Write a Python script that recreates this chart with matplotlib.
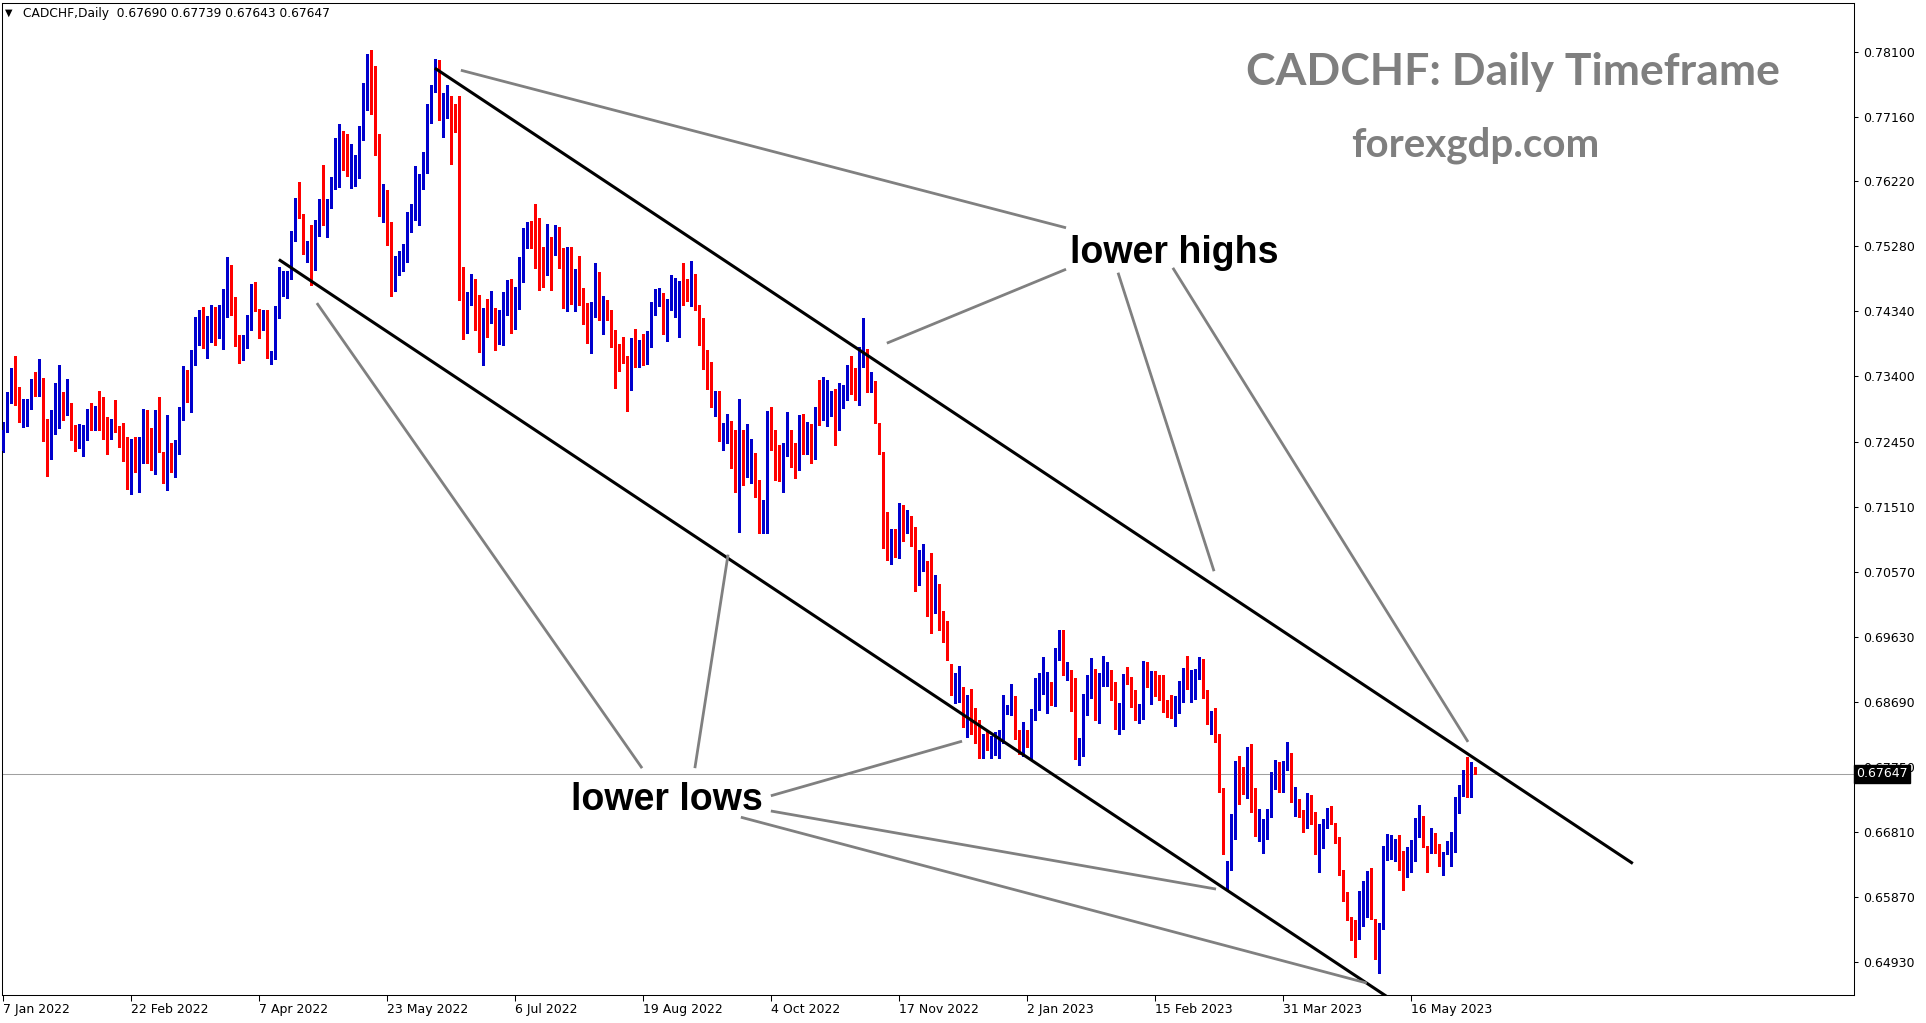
import numpy as np
import matplotlib
matplotlib.use("Agg")
import matplotlib.pyplot as plt
from matplotlib.transforms import blended_transform_factory

# CADCHF daily candles, prices in 1e-4 units (7232 -> 0.7232), bar 0 = 7 Jan 2022
opens = [7232, 7262, 7311, 7339, 7303, 7274, 7275, 7297, 7328, 7318, 7325, 7244, 7223, 7264, 7285, 7300, 7287, 7293, 7260, 7245,
         7250, 7249, 7291, 7274, 7291, 7272, 7260, 7256, 7272, 7267, 7236, 7220, 7177, 7212, 7202, 7219, 7257, 7229, 7202, 7283,
         7229, 7199, 7216, 7202, 7228, 7279, 7335, 7315, 7368, 7412, 7420, 7388, 7409, 7414, 7403, 7421, 7450, 7462, 7448, 7391,
         7383, 7392, 7415, 7439, 7437, 7412, 7419, 7363, 7376, 7428, 7474, 7469, 7484, 7539, 7582, 7575, 7519, 7529, 7498, 7555,
         7588, 7555, 7587, 7613, 7621, 7669, 7649, 7634, 7639, 7646, 7684, 7749, 7799, 7752, 7660, 7574, 7587, 7562, 7484, 7501,
         7508, 7513, 7566, 7579, 7597, 7618, 7636, 7711, 7759, 7783, 7714, 7727, 7736, 7730, 7710, 7464, 7442, 7449, 7475, 7423,
         7380, 7423, 7420, 7429, 7401, 7415, 7456, 7471, 7427, 7437, 7503, 7533, 7553, 7546, 7536, 7497, 7503, 7527, 7518, 7539,
         7510, 7449, 7498, 7468, 7481, 7459, 7430, 7388, 7426, 7478, 7422, 7439, 7429, 7397, 7377, 7372, 7370, 7325, 7390, 7368,
         7385, 7380, 7383, 7435, 7451, 7453, 7403, 7436, 7429, 7426, 7474, 7471, 7448, 7462, 7439, 7404, 7342, 7336, 7295, 7302,
         7267, 7260, 7275, 7212, 7175, 7239, 7217, 7223, 7206, 7163, 7118, 7121, 7277, 7241, 7215, 7202, 7225, 7251, 7225, 7218,
         7258, 7235, 7248, 7221, 7291, 7286, 7292, 7289, 7302, 7269, 7303, 7313, 7349, 7332, 7312, 7362, 7369, 7320, 7333, 7273,
         7231, 7106, 7081, 7102, 7080, 7142, 7127, 7123, 7109, 7053, 7066, 7053, 7029, 7008, 7040, 6970, 6958, 6924, 6889, 6880,
         6884, 6842, 6860, 6852, 6818, 6795, 6823, 6799, 6800, 6805, 6810, 6859, 6853, 6864, 6822, 6804, 6818, 6806, 6845, 6895,
         6893, 6869, 6877, 6865, 6930, 6935, 6901, 6904, 6883, 6787, 6792, 6850, 6889, 6896, 6850, 6897, 6908, 6902, 6882, 6832,
         6849, 6909, 6893, 6882, 6846, 6846, 6919, 6893, 6901, 6898, 6874, 6863, 6859, 6844, 6863, 6888, 6904, 6888, 6900, 6904,
         6922, 6883, 6838, 6844, 6821, 6744, 6623, 6633, 6674, 6775, 6767, 6746, 6795, 6727, 6676, 6681, 6670, 6702, 6757, 6776,
         6745, 6773, 6795, 6730, 6728, 6707, 6694, 6728, 6707, 6661, 6659, 6688, 6707, 6692, 6665, 6620, 6585, 6556, 6539, 6529,
         6571, 6587, 6618, 6555, 6493, 6542, 6649, 6646, 6651, 6655, 6626, 6626, 6648, 6645, 6678, 6702, 6653, 6653, 6676, 6653,
         6630, 6649, 6646, 6653, 6710, 6736, 6763, 6733, 6769]
highs = [7274, 7317, 7352, 7369, 7325, 7307, 7307, 7336, 7347, 7365, 7337, 7278, 7292, 7331, 7356, 7317, 7336, 7301, 7270, 7271,
         7270, 7293, 7301, 7297, 7319, 7310, 7281, 7278, 7306, 7268, 7272, 7252, 7249, 7252, 7252, 7293, 7291, 7265, 7291, 7310,
         7230, 7284, 7244, 7248, 7296, 7355, 7349, 7378, 7426, 7436, 7440, 7427, 7443, 7440, 7443, 7466, 7513, 7501, 7455, 7400,
         7400, 7429, 7474, 7477, 7437, 7436, 7436, 7377, 7442, 7498, 7492, 7492, 7550, 7598, 7621, 7575, 7536, 7559, 7566, 7597,
         7646, 7597, 7629, 7685, 7705, 7695, 7691, 7676, 7660, 7702, 7765, 7807, 7812, 7789, 7691, 7618, 7610, 7563, 7514, 7521,
         7532, 7578, 7589, 7645, 7633, 7665, 7734, 7762, 7799, 7798, 7750, 7762, 7746, 7734, 7746, 7498, 7462, 7488, 7481, 7458,
         7439, 7452, 7464, 7439, 7436, 7462, 7479, 7481, 7469, 7513, 7555, 7563, 7565, 7589, 7569, 7527, 7560, 7542, 7559, 7556,
         7526, 7527, 7527, 7495, 7514, 7468, 7446, 7448, 7504, 7491, 7456, 7451, 7436, 7407, 7387, 7397, 7370, 7396, 7409, 7393,
         7401, 7406, 7448, 7466, 7468, 7461, 7452, 7487, 7482, 7478, 7504, 7481, 7507, 7488, 7443, 7425, 7378, 7361, 7319, 7319,
         7273, 7286, 7275, 7262, 7307, 7262, 7271, 7249, 7229, 7190, 7161, 7290, 7296, 7262, 7241, 7244, 7289, 7262, 7244, 7284,
         7286, 7274, 7271, 7296, 7335, 7339, 7335, 7319, 7322, 7330, 7328, 7357, 7370, 7352, 7383, 7425, 7380, 7346, 7333, 7273,
         7231, 7144, 7119, 7119, 7157, 7154, 7146, 7138, 7122, 7089, 7098, 7073, 7084, 7053, 7040, 7001, 6986, 6924, 6910, 6921,
         6890, 6879, 6887, 6860, 6842, 6823, 6828, 6819, 6826, 6828, 6879, 6864, 6895, 6877, 6828, 6840, 6828, 6858, 6903, 6911,
         6934, 6912, 6898, 6947, 6973, 6973, 6927, 6915, 6904, 6817, 6880, 6908, 6932, 6917, 6911, 6935, 6927, 6915, 6898, 6867,
         6909, 6919, 6905, 6886, 6866, 6928, 6927, 6914, 6914, 6908, 6908, 6872, 6879, 6877, 6899, 6918, 6935, 6915, 6916, 6934,
         6931, 6886, 6856, 6860, 6822, 6744, 6638, 6707, 6783, 6791, 6775, 6804, 6808, 6744, 6714, 6699, 6714, 6767, 6785, 6782,
         6783, 6811, 6795, 6745, 6728, 6712, 6737, 6734, 6710, 6692, 6699, 6715, 6718, 6694, 6673, 6626, 6594, 6557, 6553, 6595,
         6610, 6624, 6629, 6555, 6549, 6660, 6678, 6676, 6671, 6676, 6653, 6659, 6669, 6701, 6720, 6704, 6660, 6686, 6679, 6663,
         6652, 6667, 6680, 6731, 6749, 6770, 6789, 6782, 6774]
lows = [7231, 7260, 7302, 7299, 7274, 7266, 7268, 7293, 7312, 7311, 7246, 7196, 7221, 7257, 7265, 7277, 7284, 7248, 7232, 7237,
        7225, 7248, 7263, 7263, 7263, 7250, 7227, 7250, 7259, 7238, 7218, 7177, 7170, 7201, 7172, 7214, 7214, 7205, 7199, 7230,
        7186, 7175, 7201, 7195, 7228, 7277, 7303, 7289, 7356, 7385, 7381, 7367, 7389, 7385, 7396, 7380, 7426, 7429, 7384, 7360,
        7363, 7381, 7407, 7435, 7396, 7407, 7366, 7358, 7365, 7425, 7457, 7454, 7481, 7536, 7569, 7517, 7506, 7472, 7494, 7543,
        7559, 7542, 7584, 7611, 7614, 7639, 7630, 7613, 7615, 7627, 7682, 7726, 7720, 7660, 7572, 7563, 7530, 7456, 7464, 7487,
        7493, 7506, 7549, 7566, 7559, 7611, 7634, 7707, 7752, 7711, 7686, 7714, 7647, 7694, 7450, 7394, 7403, 7443, 7407, 7375,
        7356, 7397, 7417, 7378, 7387, 7385, 7429, 7403, 7409, 7437, 7477, 7526, 7526, 7497, 7465, 7469, 7487, 7465, 7516, 7497,
        7439, 7435, 7445, 7435, 7443, 7416, 7388, 7374, 7426, 7422, 7401, 7422, 7383, 7323, 7348, 7359, 7290, 7320, 7354, 7354,
        7356, 7358, 7383, 7429, 7442, 7401, 7391, 7436, 7426, 7397, 7443, 7449, 7442, 7436, 7385, 7351, 7322, 7296, 7282, 7247,
        7234, 7244, 7207, 7173, 7115, 7183, 7195, 7186, 7166, 7113, 7113, 7114, 7234, 7190, 7188, 7173, 7225, 7209, 7193, 7205,
        7228, 7228, 7214, 7221, 7270, 7277, 7268, 7282, 7241, 7262, 7294, 7306, 7315, 7306, 7299, 7354, 7318, 7318, 7272, 7228,
        7091, 7074, 7069, 7079, 7077, 7101, 7114, 7095, 7030, 7038, 7059, 6993, 6969, 6998, 6973, 6956, 6930, 6879, 6867, 6869,
        6833, 6818, 6823, 6809, 6787, 6787, 6799, 6787, 6792, 6787, 6809, 6852, 6850, 6815, 6794, 6790, 6804, 6786, 6842, 6857,
        6881, 6853, 6864, 6863, 6929, 6908, 6900, 6855, 6786, 6778, 6791, 6850, 6875, 6843, 6839, 6892, 6892, 6871, 6830, 6823,
        6830, 6895, 6862, 6843, 6838, 6844, 6891, 6866, 6877, 6872, 6854, 6847, 6846, 6834, 6853, 6869, 6888, 6868, 6873, 6902,
        6875, 6837, 6822, 6811, 6739, 6649, 6596, 6626, 6671, 6721, 6736, 6730, 6709, 6675, 6667, 6650, 6670, 6702, 6743, 6738,
        6738, 6770, 6724, 6704, 6702, 6680, 6686, 6692, 6649, 6622, 6657, 6686, 6692, 6665, 6619, 6581, 6553, 6525, 6499, 6526,
        6544, 6557, 6554, 6497, 6477, 6540, 6640, 6641, 6638, 6625, 6597, 6615, 6622, 6638, 6674, 6659, 6622, 6650, 6650, 6631,
        6618, 6649, 6632, 6652, 6708, 6733, 6731, 6731, 6764]
closes = [7263, 7310, 7340, 7306, 7274, 7284, 7303, 7328, 7319, 7332, 7246, 7222, 7268, 7290, 7301, 7292, 7296, 7262, 7248, 7252,
          7252, 7291, 7274, 7294, 7272, 7257, 7259, 7275, 7268, 7239, 7221, 7179, 7213, 7205, 7225, 7286, 7231, 7205, 7284, 7231,
          7198, 7216, 7211, 7232, 7281, 7332, 7315, 7371, 7414, 7423, 7390, 7417, 7417, 7399, 7420, 7458, 7464, 7448, 7392, 7375,
          7396, 7416, 7443, 7435, 7410, 7429, 7366, 7377, 7433, 7477, 7475, 7485, 7543, 7587, 7572, 7523, 7530, 7500, 7559, 7585,
          7571, 7591, 7618, 7624, 7673, 7658, 7637, 7643, 7649, 7686, 7762, 7798, 7753, 7660, 7584, 7594, 7559, 7484, 7500, 7506,
          7524, 7563, 7582, 7604, 7618, 7644, 7714, 7759, 7786, 7715, 7724, 7731, 7728, 7707, 7458, 7442, 7451, 7475, 7422, 7391,
          7433, 7422, 7429, 7400, 7416, 7446, 7471, 7429, 7443, 7504, 7548, 7553, 7539, 7539, 7495, 7492, 7527, 7520, 7539, 7510,
          7440, 7504, 7456, 7482, 7456, 7432, 7388, 7427, 7477, 7435, 7435, 7426, 7396, 7374, 7372, 7368, 7326, 7390, 7368, 7385,
          7378, 7383, 7437, 7452, 7453, 7404, 7437, 7440, 7445, 7462, 7452, 7451, 7482, 7437, 7404, 7375, 7341, 7296, 7305, 7266,
          7268, 7274, 7209, 7177, 7244, 7217, 7228, 7224, 7166, 7126, 7135, 7286, 7245, 7217, 7202, 7238, 7254, 7222, 7217, 7271,
          7241, 7260, 7235, 7296, 7283, 7312, 7300, 7306, 7273, 7317, 7320, 7349, 7332, 7313, 7368, 7375, 7348, 7341, 7273, 7229,
          7101, 7079, 7110, 7086, 7143, 7128, 7131, 7118, 7057, 7069, 7069, 7032, 7021, 7049, 6973, 6956, 6934, 6901, 6890, 6888,
          6847, 6864, 6852, 6821, 6799, 6818, 6803, 6804, 6805, 6820, 6863, 6860, 6868, 6826, 6811, 6811, 6813, 6844, 6898, 6896,
          6903, 6882, 6872, 6938, 6935, 6915, 6905, 6882, 6791, 6802, 6877, 6895, 6898, 6853, 6908, 6919, 6911, 6881, 6833, 6860,
          6909, 6904, 6879, 6849, 6854, 6921, 6894, 6911, 6895, 6879, 6858, 6858, 6853, 6873, 6895, 6915, 6892, 6904, 6914, 6931,
          6885, 6838, 6850, 6820, 6741, 6662, 6637, 6675, 6778, 6765, 6740, 6793, 6727, 6675, 6682, 6694, 6704, 6763, 6775, 6754,
          6772, 6792, 6738, 6738, 6704, 6689, 6734, 6694, 6666, 6668, 6691, 6710, 6694, 6668, 6621, 6587, 6554, 6547, 6535, 6581,
          6605, 6615, 6555, 6497, 6545, 6657, 6653, 6655, 6655, 6628, 6625, 6650, 6650, 6678, 6704, 6660, 6646, 6676, 6656, 6640,
          6646, 6654, 6662, 6710, 6736, 6767, 6737, 6773, 6765]

date_labels = ["7 Jan 2022", "22 Feb 2022", "7 Apr 2022", "23 May 2022", "6 Jul 2022", "19 Aug 2022",
               "4 Oct 2022", "17 Nov 2022", "2 Jan 2023", "15 Feb 2023", "31 Mar 2023", "16 May 2023"]
date_bars = [0, 32, 64, 96, 128, 160, 192, 224, 256, 288, 320, 352]

price_ticks = [0.78100, 0.77160, 0.76220, 0.75280, 0.74340, 0.73400, 0.72450, 0.71510,
               0.70570, 0.69630, 0.68690, 0.67750, 0.66810, 0.65870, 0.64930]
last_price = 0.67647
header = "CADCHF,Daily  0.67690 0.67739 0.67643 0.67647"

# channel lines: (bar, price) end points
upper_channel = [(107.9, 0.7786), (407.4, 0.6635)]
lower_channel = [(68.9, 0.7509), (352.0, 0.6419)]

# pointer lines from the two labels: ((bar, price), (bar, price))
highs_pointers = [((114.4, 0.7783), (265.7, 0.7555)),
                  ((220.9, 0.7388), (265.7, 0.7495)),
                  ((278.7, 0.7490), (302.7, 0.7058)),
                  ((292.4, 0.7497), (366.2, 0.6811))]
lows_pointers = [((78.4, 0.7446), (159.7, 0.6773)),
                 ((181.2, 0.7082), (172.9, 0.6773)),
                 ((191.9, 0.6733), (239.7, 0.6812)),
                 ((191.9, 0.6711), (303.2, 0.6598)),
                 ((184.4, 0.6702), (340.9, 0.6462))]
highs_label = (292.7, 0.7504)
lows_label = (165.9, 0.6712)

o = np.array(opens) / 10000
h = np.array(highs) / 10000
l = np.array(lows) / 10000
c = np.array(closes) / 10000
x = np.arange(len(o))

W, H = 1926, 1023
fig = plt.figure(figsize=(W / 100, H / 100), dpi=100)
ax = fig.add_axes([2 / W, 1 - 995 / H, 1852 / W, 992 / H])

up = c >= o
colors = np.where(up, "#0000cd", "#ff0000")
ax.vlines(x, l, h, colors=colors, linewidth=0.75, antialiased=False, zorder=2)
body_lo = np.minimum(o, c)
body_h = np.maximum(np.abs(c - o), 0.00012)
ax.bar(x, body_h, bottom=body_lo, width=0.75, color=colors, linewidth=0, antialiased=False, zorder=3)

ax.axhline(last_price, color="#a0a0a0", linewidth=0.75, zorder=1)

for line in (upper_channel, lower_channel):
    (x0, y0), (x1, y1) = line
    ax.plot([x0, x1], [y0, y1], color="black", linewidth=2.2, zorder=5, solid_capstyle="butt")

for (x0, y0), (x1, y1) in highs_pointers + lows_pointers:
    ax.plot([x0, x1], [y0, y1], color="#808080", linewidth=2.0, zorder=6, solid_capstyle="butt")

ax.text(highs_label[0], highs_label[1], "lower highs", fontsize=27, fontweight="bold",
        family="Liberation Sans", ha="center", va="baseline", zorder=7)
ax.text(lows_label[0], lows_label[1], "lower lows", fontsize=27, fontweight="bold",
        family="Liberation Sans", ha="center", va="baseline", zorder=7)

ax.set_xlim(-0.325, 462.7)
ax.set_ylim(0.64447, 0.78803)

ax.yaxis.tick_right()
ax.set_yticks(price_ticks)
ax.set_yticklabels([f"{p:.5f}" for p in price_ticks])
ax.tick_params(axis="y", direction="out", length=3, width=0.75, pad=3.5, labelsize=9, colors="black")
ax.set_xticks(date_bars)
ax.set_xticklabels(date_labels, ha="left")
ax.tick_params(axis="x", direction="out", length=4, width=0.75, pad=2, labelsize=9)
for sp in ax.spines.values():
    sp.set_linewidth(0.75)

# last price marker on the price axis
trans = blended_transform_factory(ax.transAxes, ax.transData)
ax.text(1.0012, last_price, "0.67647", transform=trans, color="white", fontsize=9,
        va="center", ha="left", zorder=10, clip_on=False,
        bbox=dict(boxstyle="square,pad=0.2", facecolor="black", edgecolor="black"))

fig.text(5 / W, 1 - 12.5 / H, "\u25bc", fontsize=7, va="center", ha="left")
fig.text(23 / W, 1 - 13.5 / H, header, fontsize=8.8, va="center", ha="left")

fig.text(1513 / W, 1 - 85.5 / H, "CADCHF: Daily Timeframe", fontsize=32, fontweight="bold",
         family="Lato", color="#7f7f7f", ha="center", va="baseline")
fig.text(1475 / W, 1 - 156 / H, "forexgdp.com", fontsize=29, fontweight="bold",
         family="Lato", color="#7f7f7f", ha="center", va="baseline")

fig.savefig("out.png", dpi=100)
